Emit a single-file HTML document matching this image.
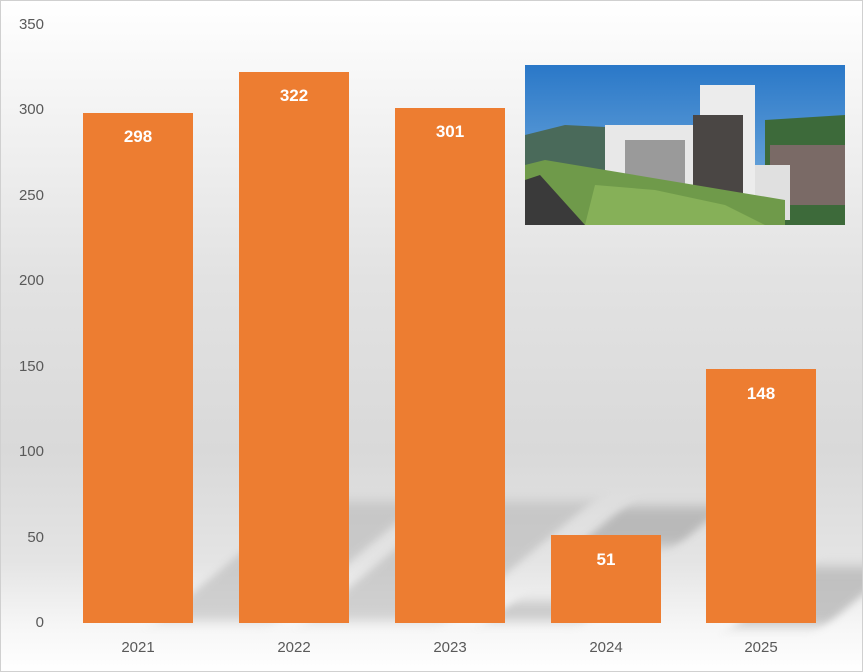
<!DOCTYPE html>
<html><head><meta charset="utf-8"><style>
body{margin:0;width:863px;height:672px;overflow:hidden;font-family:"Liberation Sans",sans-serif}
#c{position:absolute;left:0;top:0;width:861px;height:670px;border:1px solid #d0d0d0;
background:linear-gradient(to bottom,#ffffff 0px,#f2f2f2 120px,#e2e2e2 280px,#d9d9d9 450px,#e4e4e4 560px,#f6f6f6 625px,#ffffff 672px);overflow:hidden}
.bar{position:absolute;background:#ED7D31;width:110px;bottom:48px}
.v{position:absolute;width:110px;text-align:center;color:#fff;font-weight:bold;font-size:17px}
.y{position:absolute;right:818px;color:#595959;font-size:15px;text-align:right}
.x{position:absolute;width:110px;text-align:center;color:#595959;font-size:15px;top:638px}
.sh{position:absolute;background:#b0b0b0;filter:blur(6px);transform:skewX(-50deg);opacity:.8}
</style></head><body><div id="c">
<div class="sh" style="left:230px;top:500px;width:120px;height:120px;opacity:.5"></div>
<div class="sh" style="left:380px;top:500px;width:140px;height:120px;opacity:.5"></div>
<div class="sh" style="left:600px;top:505px;width:100px;height:40px"></div>
<div class="sh" style="left:770px;top:565px;width:90px;height:60px;opacity:.7"></div>
<div class="sh" style="left:500px;top:600px;width:100px;height:20px;opacity:.6"></div>
<div class="y" style="top:15px">350</div>
<div class="y" style="top:100px">300</div>
<div class="y" style="top:186px">250</div>
<div class="y" style="top:271px">200</div>
<div class="y" style="top:357px">150</div>
<div class="y" style="top:442px">100</div>
<div class="y" style="top:528px">50</div>
<div class="y" style="top:613px">0</div>
<div class="bar" style="left:82px;top:112px"></div><div class="v" style="left:82px;top:126px">298</div>
<div class="bar" style="left:238px;top:71px"></div><div class="v" style="left:238px;top:85px">322</div>
<div class="bar" style="left:394px;top:107px"></div><div class="v" style="left:394px;top:121px">301</div>
<div class="bar" style="left:550px;top:534px"></div><div class="v" style="left:550px;top:549px">51</div>
<div class="bar" style="left:705px;top:368px"></div><div class="v" style="left:705px;top:383px">148</div>
<div class="x" style="left:82px">2021</div>
<div class="x" style="left:238px">2022</div>
<div class="x" style="left:394px">2023</div>
<div class="x" style="left:550px">2024</div>
<div class="x" style="left:705px">2025</div>
<svg style="position:absolute;left:524px;top:64px" width="320" height="160" viewBox="0 0 320 160">
<defs><linearGradient id="sk" x1="0" y1="0" x2="0" y2="1"><stop offset="0" stop-color="#2a78c8"/><stop offset="1" stop-color="#7fb3e0"/></linearGradient></defs>
<rect width="320" height="160" fill="url(#sk)"/>
<path d="M0 70 L40 60 L80 62 L80 160 L0 160Z" fill="#4a6a5a"/>
<path d="M240 55 L320 50 L320 160 L240 160Z" fill="#3d6a3a"/>
<rect x="245" y="80" width="75" height="60" fill="#7a6a66"/>
<rect x="80" y="60" width="100" height="95" fill="#e8e8e8"/>
<rect x="100" y="75" width="60" height="75" fill="#9a9a9a"/>
<rect x="175" y="20" width="55" height="135" fill="#ececec"/>
<rect x="168" y="50" width="50" height="95" fill="#4a4644"/>
<rect x="230" y="100" width="35" height="55" fill="#e0e0e0"/>
<path d="M0 100 L20 95 L260 135 L260 160 L0 160Z" fill="#6f9a4a"/>
<path d="M0 115 L15 110 L60 160 L0 160Z" fill="#3a3a3a"/>
<path d="M70 120 L130 125 L200 140 L240 160 L60 160Z" fill="#86b058"/>
</svg>
</div></body></html>
